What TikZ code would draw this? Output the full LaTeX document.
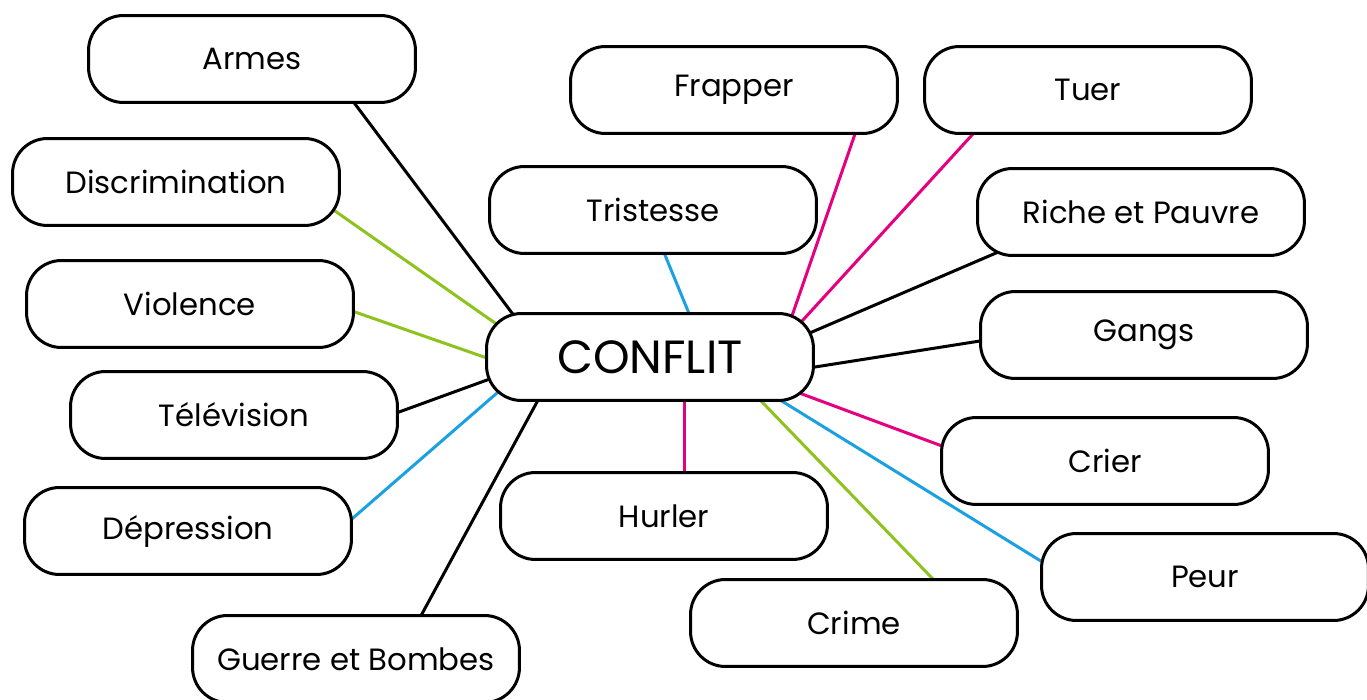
\documentclass[tikz,border=0pt]{standalone}
\usepackage{fontspec}
\setmainfont{Poppins}
\usetikzlibrary{calc,backgrounds}

\definecolor{linkgreen}{HTML}{8DC21F}
\definecolor{linkblue}{HTML}{1BA1E2}
\definecolor{linkpink}{HTML}{E4007E}

\begin{document}
\begin{tikzpicture}[x=0.02cm,y=-0.02cm]

        \useasboundingbox (0,0) rectangle (1367,700);

        \begin{scope}[every node/.style={draw, fill=white, line width=0.06cm, rounded corners=0.7cm,
            minimum width=6.54cm, minimum height=1.74cm, inner sep=0pt,
            font=\fontsize{17.5}{20}\selectfont}]
          \node (conflit) at (650,357) {\fontsize{26.5}{30}\selectfont CONFLIT};
          \node (armes)   at (252,59)  {Armes};
          \node (discr)   at (176,182) {Discrimination};
          \node (viol)    at (190,304) {Violence};
          \node (tele)    at (234,415) {Télévision};
          \node (depr)    at (188,531) {Dépression};
          \node (guerre)  at (356,659) {Guerre et Bombes};
          \node (trist)   at (653,210) {Tristesse};
          \node (frap)    at (734,90)  {Frapper};
          \node (tuer)    at (1088,90) {Tuer};
          \node (riche)   at (1141,212) {Riche et Pauvre};
          \node (gangs)   at (1144,335) {Gangs};
          \node (crier)   at (1105,461) {Crier};
          \node (peur)    at (1205,577) {Peur};
          \node (crime)   at (854,623) {Crime};
          \node (hurler)  at (664,516) {Hurler};
        \end{scope}

        \begin{scope}[on background layer]
          \begin{scope}[every edge/.style={draw, line width=0.06cm, shorten <=-0.1cm, shorten >=-0.1cm}]
            \path ($(armes)+(103,45)$)    edge              ($(conflit)+(-138,-44)$);
            \path ($(discr)+(159,29)$)    edge[linkgreen]   ($(conflit)+(-155,-34)$);
            \path ($(viol)+(165,8)$)      edge[linkgreen]   ($(conflit)+(-166,0)$);
            \path ($(tele)+(165,-3)$)     edge              ($(conflit)+(-163,23)$);
            \path ($(depr)+(165,-13)$)    edge[linkblue]    ($(conflit)+(-153,36)$);
            \path ($(guerre)+(67,-47)$)   edge              ($(conflit)+(-113,45)$);
            \path ($(trist)+(12,45)$)     edge[linkblue]    ($(conflit)+(38,-46)$);
            \path ($(frap)+(121,44)$)     edge[linkpink]    ($(conflit)+(143,-44)$);
            \path ($(tuer)+(-116,45)$)    edge[linkpink]    ($(conflit)+(153,-37)$);
            \path ($(riche)+(-145,41)$)   edge              ($(conflit)+(162,-25)$);
            \path ($(gangs)+(-164,6)$)    edge              ($(conflit)+(165,10)$);
            \path ($(crier)+(-163,-15)$)  edge[linkpink]    ($(conflit)+(152,37)$);
            \path ($(peur)+(-161,-14)$)   edge[linkblue]    ($(conflit)+(135,46)$);
            \path ($(crime)+(77,-46)$)    edge[linkgreen]   ($(conflit)+(113,46)$);
            \path ($(hurler)+(20,-45)$)   edge[linkpink]    ($(conflit)+(34,46)$);
          \end{scope}
        \end{scope}

      \end{tikzpicture}
\end{document}
